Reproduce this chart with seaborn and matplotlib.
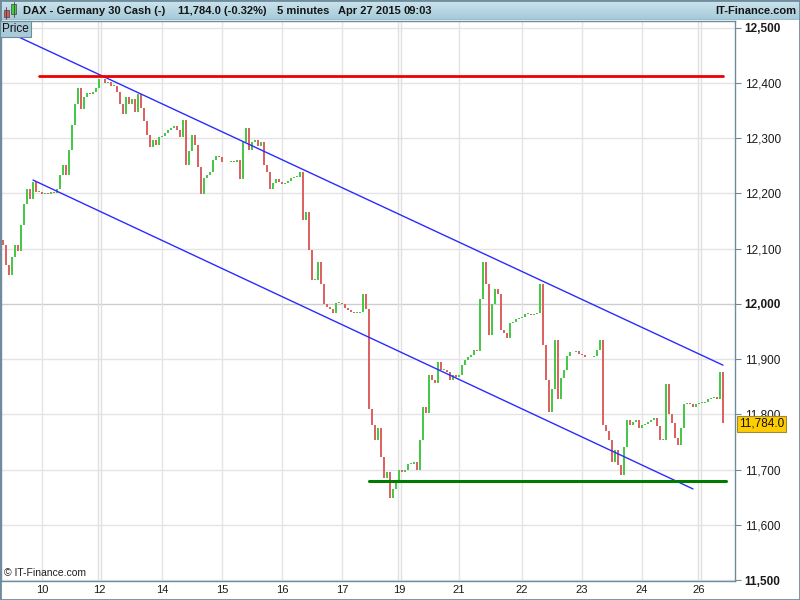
import matplotlib.pyplot as plt
import numpy as np
import pandas as pd
import seaborn as sns
from matplotlib.patches import Rectangle

# 5-minute closes (one value every ~3 px)
closes = [
    12107, 12071, 12053, 12084, 12107, 12095, 12143, 12180, 12207, 12189,
    12221, 12203, 12203, 12198, 12201, 12198, 12203, 12200, 12207, 12234,
    12252, 12234, 12279, 12324, 12361, 12391, 12352, 12375, 12382, 12379,
    12384, 12391, 12406, 12406, 12399, 12402, 12395, 12395, 12384, 12361,
    12343, 12375, 12361, 12370, 12348, 12379, 12355, 12330, 12306, 12283,
    12297, 12288, 12301, 12303, 12310, 12315, 12319, 12321, 12315, 12301,
    12333, 12252, 12276, 12306, 12288, 12248, 12198, 12228, 12234, 12239,
    12261, 12267, 12265, 12256, 12257, 12256, 12259, 12257, 12261, 12225,
    12292, 12319, 12279, 12292, 12297, 12285, 12292, 12252, 12239, 12207,
    12219, 12225, 12221, 12216, 12219, 12223, 12228, 12230, 12230, 12239,
    12152, 12167, 12098, 12044, 12044, 12075, 12035, 11999, 11995, 11990,
    11984, 12002, 12002, 11999, 11993, 11988, 11986, 11984, 11984, 11986,
    12017, 11990, 11809, 11781, 11754, 11776, 11722, 11685, 11695, 11649,
    11664, 11678, 11700, 11696, 11700, 11711, 11711, 11714, 11700, 11754,
    11814, 11803, 11872, 11863, 11857, 11894, 11881, 11881, 11876, 11863,
    11872, 11868, 11872, 11890, 11899, 11903, 11908, 11917, 11914, 12008,
    12076, 12035, 11944, 11999, 12026, 12017, 11953, 11948, 11939, 11966,
    11968, 11973, 11975, 11977, 11981, 11981, 11979, 11981, 11984, 12035,
    11926, 11863, 11805, 11845, 11935, 11827, 11866, 11881, 11905, 11912,
    11912, 11914, 11910, 11908, 11903, 11903, 11903, 11905, 11917, 11935,
    11781, 11769, 11754, 11714, 11736, 11709, 11691, 11740, 11790, 11780,
    11787, 11790, 11776, 11781, 11783, 11787, 11790, 11794, 11778, 11754,
    11754, 11854, 11800, 11785, 11758, 11745, 11776, 11818, 11821, 11818,
    11814, 11818, 11821, 11821, 11823, 11827, 11830, 11832, 11827, 11877,
    11784,
]
first_open = 12115

day_ticks = [13, 32, 53, 73, 93, 113, 132, 152, 173, 193, 213, 232]
day_labels = ['10', '12', '14', '15', '16', '17', '19', '21', '22', '23', '24', '26']
week_breaks = [32, 132, 232]
price_ticks = [11500, 11600, 11700, 11800, 11900, 12000, 12100, 12200, 12300, 12400, 12500]
bold_ticks = [11500, 12000, 12500]

# trend lines drawn on the chart (bar index, price)
upper_x, upper_y = [0, 240], [12496, 11889]
lower_x, lower_y = [10, 230], [12224, 11665]
resist_x, resist_y = [12, 240], [12413, 12413]
support_x, support_y = [122, 241], [11679, 11679]

last_price = '11,784.0'

UP = '#48c848'
DOWN = '#dd6262'
FRAME = '#6f8c9c'

sns.set_theme(style='white')
plt.rcParams['font.family'] = ['Liberation Sans', 'DejaVu Sans']

df = pd.DataFrame({'close': closes})
df['open'] = df['close'].shift(1).fillna(first_open)
df['bar'] = np.arange(len(df))
df['low'] = df[['open', 'close']].min(axis=1)
df['body'] = (df['close'] - df['open']).abs().clip(lower=1.5)
colors = np.where(df['close'] >= df['open'], UP, DOWN)

fig = plt.figure(figsize=(8, 6), dpi=100)
fig.patch.set_facecolor('white')

# header bar
hdr = fig.add_axes([0, 1 - 20 / 600, 1, 20 / 600])
grad = np.linspace(0, 1, 50).reshape(-1, 1)
hdr.imshow(grad, aspect='auto', extent=[0, 800, 20, 0],
           cmap=sns.blend_palette(['#cde5ee', '#a4c9d8'], as_cmap=True))
hdr.set_xlim(0, 800)
hdr.set_ylim(20, 0)
hdr.axis('off')
hdr.add_patch(Rectangle((3.5, 9.5), 5, 7, fc='#e05555', ec='#444', lw=0.5))
hdr.plot([6, 6], [7, 19], color='#444', lw=0.6)
hdr.add_patch(Rectangle((11, 4), 5, 10, fc='#44cc44', ec='#444', lw=0.5))
hdr.plot([13.5, 13.5], [1.5, 17], color='#444', lw=0.6)
hdr_kw = dict(va='center', fontsize=8, fontweight='bold', color='#151515')
hdr.text(23, 10.5, 'DAX - Germany 30 Cash (-)', **hdr_kw)
hdr.text(178, 10.5, '11,784.0 (-0.32%)', **hdr_kw)
hdr.text(277, 10.5, '5 minutes', **hdr_kw)
hdr.text(338, 10.5, 'Apr 27 2015', **hdr_kw)
hdr.text(403, 10.5, '09:03', **hdr_kw)
hdr.text(796, 10.5, 'IT-Finance.com', ha='right', **hdr_kw)
hdr.axhline(19.7, color=FRAME, lw=1)

# main price axes
ax = fig.add_axes([1 / 800, 19 / 600, 734 / 800, 560 / 600])
ax.set_facecolor('white')
ax.set_xlim(-0.67, 244)
ax.set_ylim(11498.4, 12511.8)

for p in price_ticks:
    ax.axhline(p, color='#cdcdcd' if p == 12000 else '#e4e4e4', lw=1, zorder=0)
for d in day_ticks:
    if d in week_breaks:
        ax.axvline(d - 0.5, color='#e0e0e0', lw=1, zorder=0)
        ax.axvline(d + 0.6, color='#e0e0e0', lw=1, zorder=0)
    else:
        ax.axvline(d, color='#e4e4e4', lw=1, zorder=0)

ax.bar(df['bar'], df['body'], bottom=df['low'], width=0.85,
       color=colors, linewidth=0, zorder=2)

sns.lineplot(x=upper_x, y=upper_y, ax=ax, color='#2b2bff', lw=1, zorder=3)
sns.lineplot(x=lower_x, y=lower_y, ax=ax, color='#2b2bff', lw=1, zorder=3)
sns.lineplot(x=resist_x, y=resist_y, ax=ax, color='#ee0000', lw=2, zorder=3)
sns.lineplot(x=support_x, y=support_y, ax=ax, color='#007a00', lw=2.2, zorder=3)

ax.yaxis.tick_right()
ax.set_yticks(price_ticks)
ax.set_yticklabels([f'{p:,}' for p in price_ticks])
for lab, p in zip(ax.get_yticklabels(), price_ticks):
    if p in bold_ticks:
        lab.set_fontweight('bold')
        lab.set_fontsize(9)
ax.tick_params(axis='y', which='both', right=True, left=False, length=4, width=0.8,
               color=FRAME, pad=3, labelsize=8.5, labelcolor='#1a1a1a')
ax.set_xticks(day_ticks)
ax.set_xticklabels(day_labels)
ax.tick_params(axis='x', length=0, pad=3, labelsize=8, labelcolor='#1a1a1a')
ax.set_xlabel('')
ax.set_ylabel('')
for s in ax.spines.values():
    s.set_color(FRAME)
    s.set_linewidth(1)

ax.text(0.004, 0.006, '\u00a9 IT-Finance.com', transform=ax.transAxes,
        fontsize=7.5, color='#222222', va='bottom', ha='left')

# "Price" tag and last price tag (the tag sits over the 11,800 label, as in the original)
fig.text(2 / 800, 1 - 29 / 600, 'Price', fontsize=8.5, color='#111', va='center',
         bbox=dict(boxstyle='square,pad=0.2', fc='#a9cad8', ec=FRAME, lw=0.8))
fig.text(739 / 800, 1 - 424 / 600, last_price, fontsize=8.5, color='#111', va='center',
         bbox=dict(boxstyle='square,pad=0.18', fc='#ffcc00', ec='#9a8a40', lw=0.8))

fig.add_artist(Rectangle((0, 0), 1, 1, transform=fig.transFigure, fill=False,
                         ec=FRAME, lw=2))

fig.savefig('out.png', dpi=100)
